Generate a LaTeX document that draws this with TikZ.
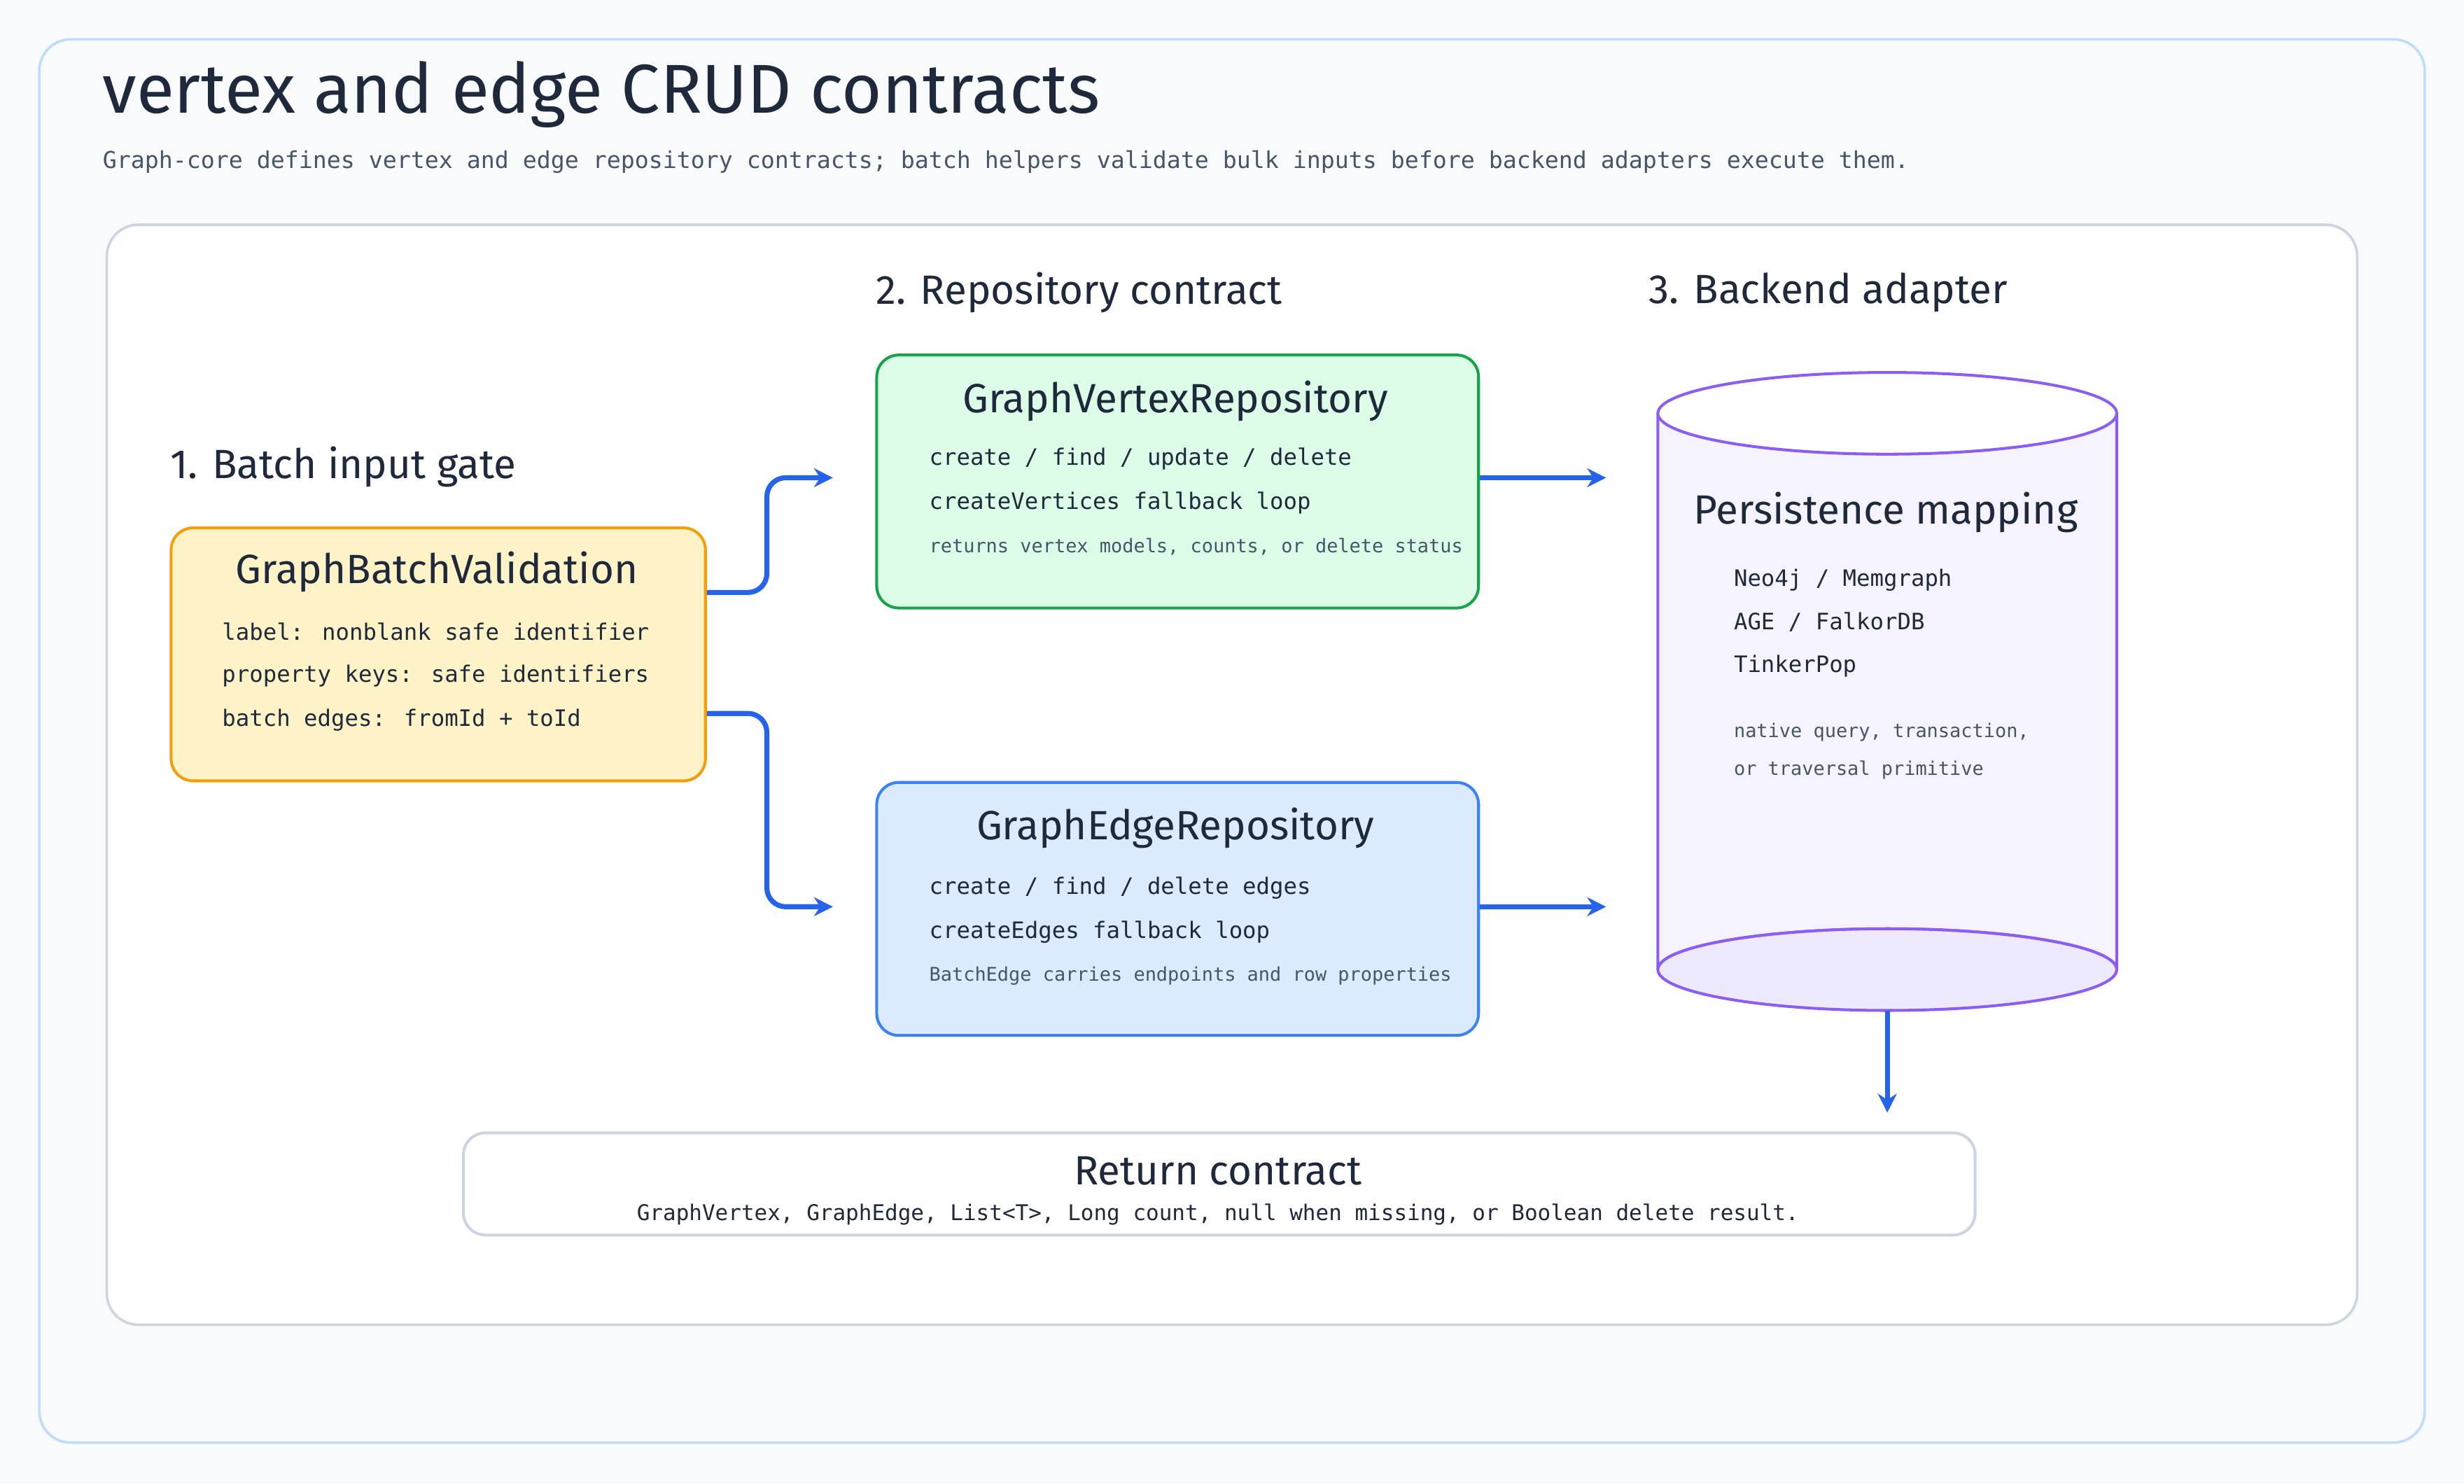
\documentclass[tikz,border=0pt]{standalone}
\usepackage{fontspec}
\setmainfont{Fira Sans}
\newfontfamily\mono{DejaVu Sans Mono}
\usetikzlibrary{arrows.meta}
\definecolor{bgc}{HTML}{F8FAFC}
\definecolor{outl}{HTML}{BFDBFE}
\definecolor{pan}{HTML}{CBD5E1}
\definecolor{ink}{HTML}{1E293B}
\definecolor{sub}{HTML}{475569}
\definecolor{ayel}{HTML}{FEF3C7}\definecolor{byel}{HTML}{F59E0B}
\definecolor{agrn}{HTML}{DCFCE7}\definecolor{bgrn}{HTML}{16A34A}
\definecolor{ablu}{HTML}{DBEAFE}\definecolor{bblu}{HTML}{3B82F6}
\definecolor{apur}{HTML}{F5F3FF}\definecolor{bpur}{HTML}{8B5CF6}\definecolor{cpur}{HTML}{EDE9FE}
\definecolor{arr}{HTML}{2563EB}
\tikzset{
 box/.style={draw,rounded corners=7pt,line width=0.9pt,anchor=north west,inner sep=0pt},
 head/.style={font=\fontsize{13}{15}\selectfont,text=ink},
 stp/.style={font=\fontsize{13}{15}\selectfont,text=ink,anchor=west,inner sep=0pt},
 ln/.style={font=\mono\fontsize{7.2}{9}\selectfont,text=ink,anchor=west,inner sep=0pt},
 sm/.style={font=\mono\fontsize{6.0}{8}\selectfont,text=sub,anchor=west,inner sep=0pt},
 con/.style={-{Stealth[length=6pt,width=6pt]},line width=1.6pt,draw=arr,rounded corners=6pt},
}
\begin{document}
\begin{tikzpicture}[x=0.5pt,y=-0.5pt]
\useasboundingbox[fill=bgc] (0,0) rectangle (1568,944);
\draw[outl,fill=bgc,rounded corners=10pt,line width=0.8pt] (25,25) rectangle (1543,918);
\node[anchor=west,inner sep=0pt,font=\fontsize{22}{26}\selectfont,text=ink] (title) at (65,60) {vertex and edge CRUD contracts};
\node[anchor=west,inner sep=0pt,font=\mono\fontsize{7.4}{9}\selectfont,text=sub] (subt) at (65,103) {Graph-core defines vertex and edge repository contracts; batch helpers validate bulk inputs before backend adapters execute them.};
\draw[pan,fill=white,rounded corners=10pt,line width=0.8pt] (68,143) rectangle (1500,843);
% step labels
\node[stp] (s1) at (108,297) {1. Batch input gate};
\node[stp] (s2) at (557,186) {2. Repository contract};
\node[stp] (s3) at (1049,186) {3. Backend adapter};
% batch box
\node[box,draw=byel,fill=ayel,minimum width=170pt,minimum height=80.5pt] (bat) at (108,335) {};
\node[head] (batt) at (278,364) {GraphBatchValidation};
\node[ln] at (141,402) {label: nonblank safe identifier};
\node[ln] at (141,430) {property keys: safe identifiers};
\node[ln] at (141,458) {batch edges: fromId + toId};
% vertex box
\node[box,draw=bgrn,fill=agrn,minimum width=191.5pt,minimum height=80.5pt] (ver) at (557,225) {};
\node[head] at (748,255) {GraphVertexRepository};
\node[ln] at (591,292) {create / find / update / delete};
\node[ln] at (591,320) {createVertices fallback loop};
\node[sm] at (591,348) {returns vertex models, counts, or delete status};
% edge box
\node[box,draw=bblu,fill=ablu,minimum width=191.5pt,minimum height=80.5pt] (edg) at (557,497) {};
\node[head] at (748,527) {GraphEdgeRepository};
\node[ln] at (591,565) {create / find / delete edges};
\node[ln] at (591,593) {createEdges fallback loop};
\node[sm] at (591,621) {BatchEdge carries endpoints and row properties};
% cylinder
\draw[bpur,fill=apur,line width=0.9pt] (1055,263) -- (1055,617) arc[start angle=180,end angle=360,x radius=146,y radius=26] -- (1347,263);
\draw[bpur,fill=cpur,line width=0.9pt] (1201,617) ellipse[x radius=146,y radius=26];
\draw[bpur,fill=white,line width=0.9pt] (1201,263) ellipse[x radius=146,y radius=26];
\coordinate (cylb) at (1201,643);
\coordinate (cylv) at (1022,304);
\coordinate (cyle) at (1022,577);
\coordinate (rt) at (1201,708);
\node[head] at (1200,326) {Persistence mapping};
\node[ln] at (1103,369) {Neo4j / Memgraph};
\node[ln] at (1103,396) {AGE / FalkorDB};
\node[ln] at (1103,424) {TinkerPop};
\node[sm] at (1103,466) {native query, transaction,};
\node[sm] at (1103,490) {or traversal primitive};
% return
\node[box,draw=pan,fill=white,minimum width=481pt,minimum height=32.5pt] (ret) at (294,720) {};
\node[head] at (775,745) {Return contract};
\node[font=\mono\fontsize{6.9}{9}\selectfont,text=ink] at (775,773) {GraphVertex, GraphEdge, List<T>, Long count, null when missing, or Boolean delete result.};
% connectors
\coordinate (v1) at (530,304);
\coordinate (e1) at (530,577);
\draw[con] (bat.east |- 0,377) -- (488,377) -- (488,304) -- (v1);
\draw[con] (bat.east |- 0,454) -- (488,454) -- (488,577) -- (e1);
\draw[con] (ver.east |- 0,304) -- (cylv);
\draw[con] (edg.east |- 0,577) -- (cyle);
\draw[con] (cylb) -- (rt);
\end{tikzpicture}
\end{document}
